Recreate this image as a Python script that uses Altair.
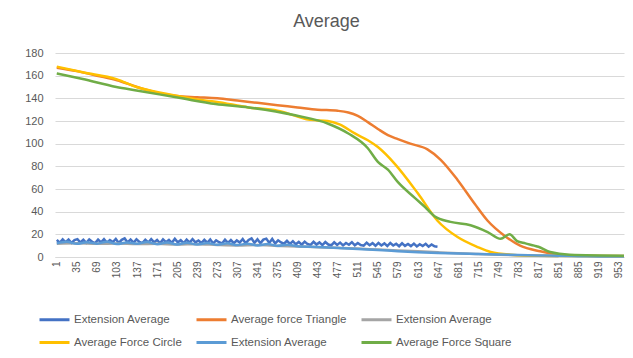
import altair as alt
import pandas as pd

# ---- data ----
x_tick_labels = [1, 35, 69, 103, 137, 171, 205, 239, 273, 307, 341, 375, 409, 443, 477,
                 511, 545, 579, 613, 647, 681, 715, 749, 783, 817, 851, 885, 919, 953]
y_tick_labels = [0, 20, 40, 60, 80, 100, 120, 140, 160, 180]

# Extension Average (series 1, noisy) sampled every 5 categories from 1 to 646
ext1_index = list(range(1, 647, 5))
ext1_values = [
    15.1, 12.6, 15.6, 13.0, 15.4, 12.4, 14.9, 15.8, 12.8, 15.2,
    12.5, 15.5, 13.4, 12.3, 15.3, 12.9, 15.7, 12.6, 15.0, 13.2,
    15.9, 12.4, 15.1, 16.4, 12.9, 15.4, 12.6, 15.6, 13.3, 12.2,
    15.2, 12.8, 15.8, 13.0, 15.0, 12.1, 15.5, 13.1, 15.1, 12.5,
    16.0, 12.9, 14.8, 12.2, 15.4, 12.7, 15.7, 12.9, 14.6, 12.3,
    15.1, 12.6, 15.5, 12.0, 14.7, 13.0, 11.9, 15.2, 12.4, 14.9,
    12.2, 14.6, 12.8, 15.9, 12.1, 15.1, 16.5, 12.5, 15.6, 12.2,
    15.3, 16.2, 12.4, 15.9, 12.0, 14.7, 12.8, 11.7, 14.3, 11.6,
    13.9, 11.2, 13.3, 10.9, 13.6, 11.4, 10.7, 13.4, 11.0, 12.9,
    10.5, 13.2, 11.0, 10.3, 13.0, 10.7, 12.7, 10.2, 12.4, 10.8,
    13.1, 10.3, 12.3, 10.6, 10.0, 12.6, 10.4, 12.2, 9.9, 12.4,
    10.2, 12.0, 9.7, 12.4, 10.1, 11.7, 9.5, 12.1, 9.8, 11.5,
    9.6, 11.8, 9.3, 11.3, 9.7, 11.6, 9.1, 11.1, 9.4, 9.0,
]

tri_index = [1, 35, 69, 103, 137, 171, 205, 239, 273, 307, 341, 375, 409, 443, 477, 495,
             511, 528, 545, 562, 579, 600, 629, 651, 680, 709, 731, 759, 786, 820, 848, 885, 962]
tri_values = [167, 164, 160, 156, 150, 145, 142, 141, 140, 138, 136, 134, 132, 130, 129, 127.5,
              124.5, 119, 113, 107.5, 104, 100, 95, 86, 68, 47, 32, 19, 10, 5, 2.4, 1.0, 0.8]

ext2_index = [1, 35, 69, 103, 137, 171, 205, 239, 273, 307, 341, 375, 409, 443, 477, 511,
              545, 579, 613, 647, 681, 715, 749, 783, 817, 851]
ext2_values = [11.8, 12.2, 11.6, 12.0, 11.4, 11.7, 11.0, 11.3, 10.6, 10.2, 10.5, 9.8, 9.2,
               8.7, 8.1, 7.4, 6.6, 5.8, 5.0, 4.1, 3.3, 2.6, 2.0, 1.5, 1.0, 0.7]

circ_index = [1, 45, 102, 136, 186, 239, 270, 326, 375, 409, 430, 460, 480, 506, 528, 545,
              574, 613, 646, 680, 714, 736, 770, 820, 962]
circ_values = [168, 163, 157, 150, 144, 139, 137, 132, 129, 124, 121, 120, 117, 109, 103, 97,
               82, 56, 32, 17.6, 8.8, 4.4, 2.0, 1.0, 0.6]

ext3_index = [1, 18, 35, 52, 69, 86, 103, 120, 137, 154, 171, 188, 205, 222, 239, 256, 273,
              290, 307, 324, 341, 358, 375, 392, 409, 443, 477, 511, 545, 579, 613, 647, 681,
              715, 749, 783, 817, 851, 885, 919, 953, 962]
ext3_values = [12.0, 13.4, 11.6, 13.1, 11.8, 13.5, 11.4, 12.9, 11.7, 13.2, 11.3, 12.8, 11.1,
               12.6, 11.0, 12.4, 10.8, 12.1, 10.5, 11.8, 10.2, 11.5, 9.9, 10.8, 9.4, 8.8, 8.0,
               7.1, 6.2, 5.1, 4.2, 3.5, 3.0, 2.6, 2.2, 1.8, 1.4, 1.0, 0.7, 0.5, 0.4, 0.4]

sq_index = [1, 45, 102, 136, 213, 270, 326, 405, 461, 495, 528, 545, 562, 579, 608, 625,
            641, 668, 702, 731, 753, 768, 781, 795, 810, 817, 837, 870, 962]
sq_values = [162, 157, 150, 147, 140, 135, 132, 125, 117.6, 109, 96, 84, 77, 66, 52, 44,
             36, 31, 28, 22, 16, 20, 14, 12, 10, 9, 4.4, 2.0, 1.2]

series_names = ["1|Extension Average", "2|Average force Triangle", "3|Extension Average",
                "4|Average Force Circle", "5|Extension Average", "6|Average Force Square"]
series_colors = ["#4472C4", "#ED7D31", "#A5A5A5", "#FFC000", "#5B9BD5", "#70AD47"]

series_data = [
    (series_names[0], ext1_index, ext1_values),
    (series_names[1], tri_index, tri_values),
    (series_names[2], ext2_index, ext2_values),
    (series_names[3], circ_index, circ_values),
    (series_names[4], ext3_index, ext3_values),
    (series_names[5], sq_index, sq_values),
]

rows = []
for name, xs, ys in series_data:
    for xv, yv in zip(xs, ys):
        rows.append({"series": name, "idx": xv, "value": yv})
df = pd.DataFrame(rows)

FONT = "Liberation Sans"
GREY = "#595959"

x_enc = alt.X("idx:Q",
              scale=alt.Scale(domain=[-2, 962], nice=False, zero=False),
              axis=alt.Axis(values=x_tick_labels, labelAngle=270, grid=False, ticks=False,
                            domainColor="#D9D9D9", labelFontSize=10, labelColor=GREY,
                            labelFont=FONT, title=None, labelPadding=4, labelOverlap=False,
                            labelFlush=False))
y_enc = alt.Y("value:Q",
              scale=alt.Scale(domain=[0, 180], nice=False),
              axis=alt.Axis(values=y_tick_labels, grid=True, gridColor="#D9D9D9", domain=False,
                            ticks=False, title=None, labelPadding=12, labelFontSize=11,
                            labelColor=GREY, labelFont=FONT))
c_enc = alt.Color("series:N",
                  scale=alt.Scale(domain=series_names, range=series_colors),
                  legend=alt.Legend(orient="none", legendX=-17, legendY=250, columns=3,
                                    direction="horizontal",
                                    title=None, symbolType="stroke", symbolStrokeWidth=3,
                                    symbolSize=900, labelFont=FONT, labelFontSize=11.5,
                                    labelColor=GREY, columnPadding=8, rowPadding=0,
                                    labelOffset=3,
                                    labelExpr="split(datum.label, '|')[1]"))

base = alt.Chart(df).encode(x=x_enc, y=y_enc, color=c_enc, order=alt.Order("idx:Q"))

noisy = base.mark_line(strokeWidth=2.5, interpolate="linear").transform_filter(
    alt.datum.series == series_names[0])
smooth = base.mark_line(strokeWidth=2.5, interpolate="monotone").transform_filter(
    alt.datum.series != series_names[0])

chart = alt.layer(noisy, smooth).properties(
    width=569,
    height=204,
    title=alt.TitleParams("Average", fontSize=18, color=GREY, font=FONT, fontWeight="normal",
                          anchor="middle", offset=16, dx=-13),
    autosize=alt.AutoSizeParams(type="none"),
    padding={"left": 47, "top": 45, "right": 1, "bottom": 91},
).configure_view(stroke=None)

chart.save("out.html", embed_options={"renderer": "svg", "actions": False})
